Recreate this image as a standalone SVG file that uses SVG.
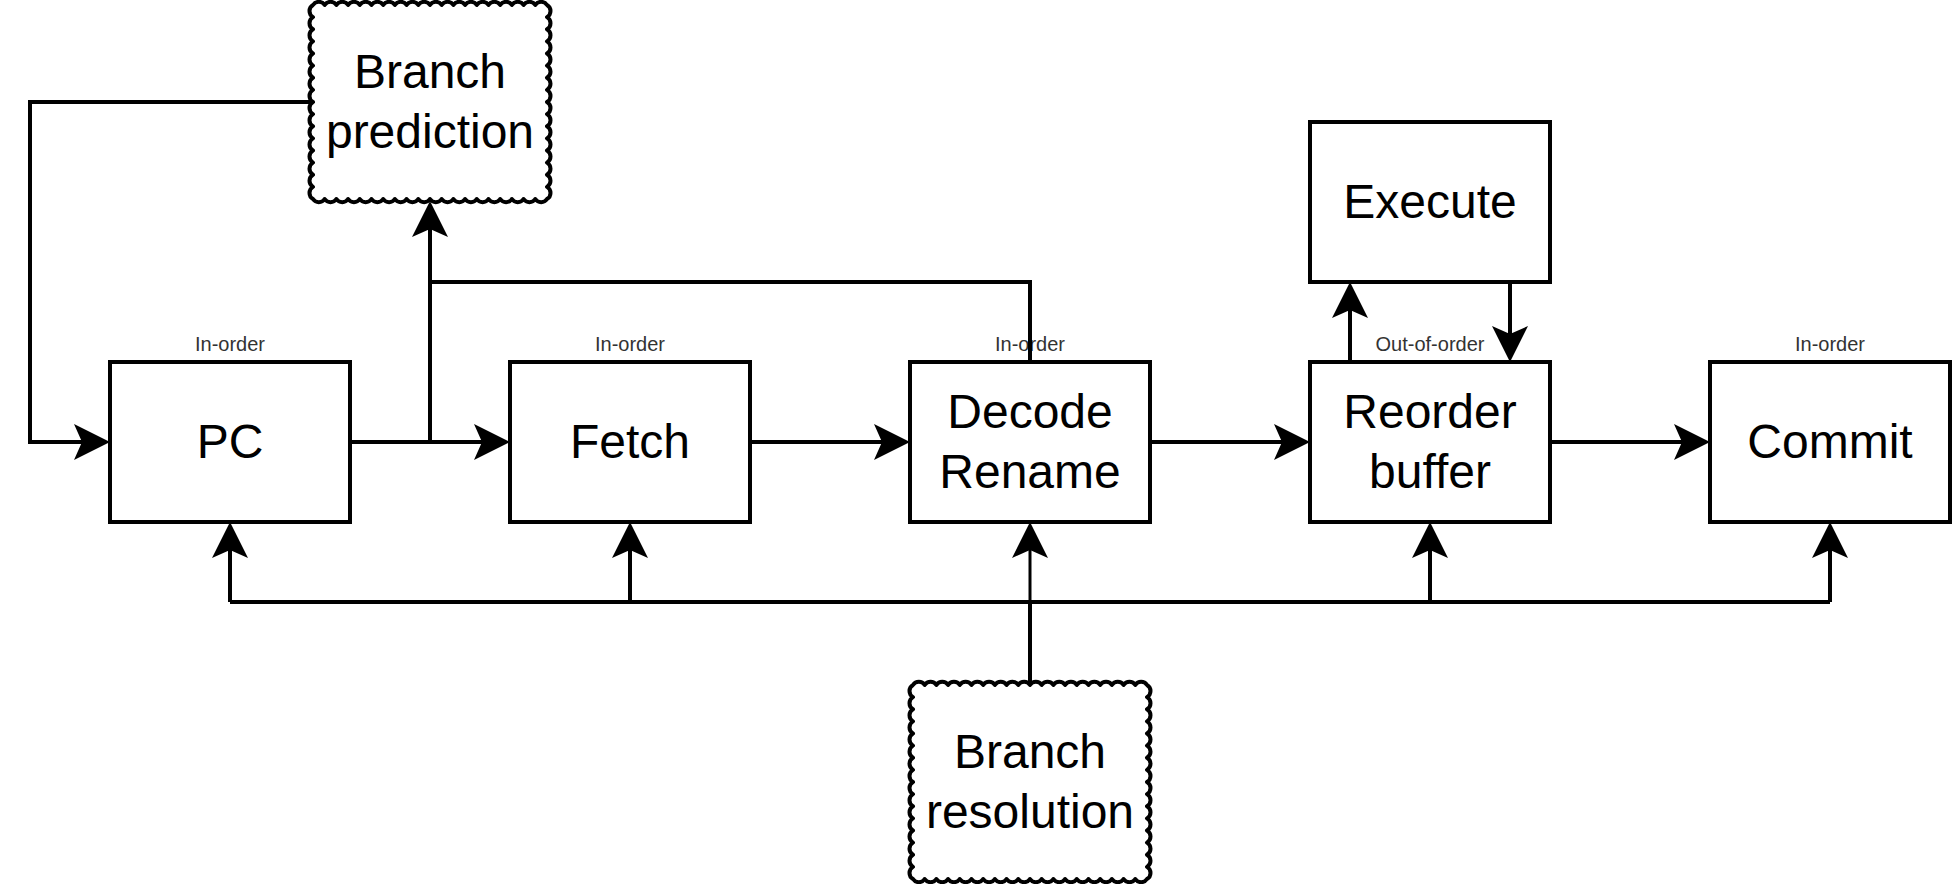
<svg xmlns="http://www.w3.org/2000/svg" xmlns:xlink="http://www.w3.org/1999/xlink" width="1952" height="884" viewBox="0 0 1952 884">
<style>
.box{fill:#fff;stroke:#000;stroke-width:4}
.wave{fill:#fff;stroke:#000;stroke-width:4;stroke-linejoin:round}
.lbl{font-family:"Liberation Sans",Arial,sans-serif;font-size:48px;fill:#000;text-anchor:middle}
.tag{font-family:"Liberation Sans",Arial,sans-serif;font-size:20px;fill:#333;text-anchor:middle}
.edge{fill:none;stroke:#000;stroke-width:4}
.thin{fill:none;stroke:#000;stroke-width:3}
</style>
<defs>
<marker id="arr" markerUnits="userSpaceOnUse" orient="auto" overflow="visible" markerWidth="40" markerHeight="40" refX="0" refY="0">
<path d="M28,0 L-8,-18 L0,0 L-8,18 Z" fill="#000"/>
</marker>
<path id="scallop" d="M3,3 a7 7 0 0 1 11.7 0 a7 7 0 0 1 11.7 0 a7 7 0 0 1 11.7 0 a7 7 0 0 1 11.7 0 a7 7 0 0 1 11.7 0 a7 7 0 0 1 11.7 0 a7 7 0 0 1 11.7 0 a7 7 0 0 1 11.7 0 a7 7 0 0 1 11.7 0 a7 7 0 0 1 11.7 0 a7 7 0 0 1 11.7 0 a7 7 0 0 1 11.7 0 a7 7 0 0 1 11.7 0 a7 7 0 0 1 11.7 0 a7 7 0 0 1 11.7 0 a7 7 0 0 1 11.7 0 a7 7 0 0 1 11.7 0 a7 7 0 0 1 11.7 0 a7 7 0 0 1 11.7 0 a7 7 0 0 1 11.7 0 a7 7 0 0 1 0 12.125 a7 7 0 0 1 0 12.125 a7 7 0 0 1 0 12.125 a7 7 0 0 1 0 12.125 a7 7 0 0 1 0 12.125 a7 7 0 0 1 0 12.125 a7 7 0 0 1 0 12.125 a7 7 0 0 1 0 12.125 a7 7 0 0 1 0 12.125 a7 7 0 0 1 0 12.125 a7 7 0 0 1 0 12.125 a7 7 0 0 1 0 12.125 a7 7 0 0 1 0 12.125 a7 7 0 0 1 0 12.125 a7 7 0 0 1 0 12.125 a7 7 0 0 1 0 12.125 a7 7 0 0 1 -11.7 0 a7 7 0 0 1 -11.7 0 a7 7 0 0 1 -11.7 0 a7 7 0 0 1 -11.7 0 a7 7 0 0 1 -11.7 0 a7 7 0 0 1 -11.7 0 a7 7 0 0 1 -11.7 0 a7 7 0 0 1 -11.7 0 a7 7 0 0 1 -11.7 0 a7 7 0 0 1 -11.7 0 a7 7 0 0 1 -11.7 0 a7 7 0 0 1 -11.7 0 a7 7 0 0 1 -11.7 0 a7 7 0 0 1 -11.7 0 a7 7 0 0 1 -11.7 0 a7 7 0 0 1 -11.7 0 a7 7 0 0 1 -11.7 0 a7 7 0 0 1 -11.7 0 a7 7 0 0 1 -11.7 0 a7 7 0 0 1 -11.7 0 a7 7 0 0 1 0 -12.125 a7 7 0 0 1 0 -12.125 a7 7 0 0 1 0 -12.125 a7 7 0 0 1 0 -12.125 a7 7 0 0 1 0 -12.125 a7 7 0 0 1 0 -12.125 a7 7 0 0 1 0 -12.125 a7 7 0 0 1 0 -12.125 a7 7 0 0 1 0 -12.125 a7 7 0 0 1 0 -12.125 a7 7 0 0 1 0 -12.125 a7 7 0 0 1 0 -12.125 a7 7 0 0 1 0 -12.125 a7 7 0 0 1 0 -12.125 a7 7 0 0 1 0 -12.125 a7 7 0 0 1 0 -12.125 Z"/>
</defs>
<rect x="0" y="0" width="1952" height="884" fill="#fff"/>

<g id="node-branch-prediction">
<use xlink:href="#scallop" href="#scallop" class="wave" transform="translate(310,2)"/>
<text class="lbl" x="430" y="88">Branch</text>
<text class="lbl" x="430" y="148">prediction</text>
</g>

<g id="node-pc">
<rect class="box" x="110" y="362" width="240" height="160"/>
<text class="lbl" x="230" y="458">PC</text>
<text class="tag" x="230" y="351">In-order</text>
</g>

<g id="node-fetch">
<rect class="box" x="510" y="362" width="240" height="160"/>
<text class="lbl" x="630" y="458">Fetch</text>
<text class="tag" x="630" y="351">In-order</text>
</g>

<g id="node-decode">
<rect class="box" x="910" y="362" width="240" height="160"/>
<text class="lbl" x="1030" y="428">Decode</text>
<text class="lbl" x="1030" y="488">Rename</text>
<text class="tag" x="1030" y="351">In-order</text>
</g>

<g id="node-execute">
<rect class="box" x="1310" y="122" width="240" height="160"/>
<text class="lbl" x="1430" y="218">Execute</text>
</g>

<g id="node-rob">
<rect class="box" x="1310" y="362" width="240" height="160"/>
<text class="lbl" x="1430" y="428">Reorder</text>
<text class="lbl" x="1430" y="488">buffer</text>
<text class="tag" x="1430" y="351">Out-of-order</text>
</g>

<g id="node-commit">
<rect class="box" x="1710" y="362" width="240" height="160"/>
<text class="lbl" x="1830" y="458">Commit</text>
<text class="tag" x="1830" y="351">In-order</text>
</g>

<g id="node-branch-resolution">
<use xlink:href="#scallop" href="#scallop" class="wave" transform="translate(910,682)"/>
<text class="lbl" x="1030" y="768">Branch</text>
<text class="lbl" x="1030" y="828">resolution</text>
</g>

<g id="connectors">
<path class="edge" d="M312,102 H30 V442 H82" marker-end="url(#arr)"/>
<path class="edge" d="M350,442 H482" marker-end="url(#arr)"/>
<path class="edge" d="M430,442 V229" marker-end="url(#arr)"/>
<path class="edge" d="M1030,362 V282 H430"/>
<path class="edge" d="M750,442 H882" marker-end="url(#arr)"/>
<path class="edge" d="M1150,442 H1282" marker-end="url(#arr)"/>
<path class="edge" d="M1550,442 H1682" marker-end="url(#arr)"/>
<path class="edge" d="M1350,362 V310" marker-end="url(#arr)"/>
<path class="edge" d="M1510,282 V334" marker-end="url(#arr)"/>
<path class="edge" d="M230,602 H1830"/>
<path class="edge" d="M230,602 V550" marker-end="url(#arr)"/>
<path class="edge" d="M630,602 V550" marker-end="url(#arr)"/>
<path class="edge" d="M1430,602 V550" marker-end="url(#arr)"/>
<path class="edge" d="M1830,602 V550" marker-end="url(#arr)"/>
<path class="edge" d="M1030,683 V602"/>
<path class="thin" d="M1030,602 V550" marker-end="url(#arr)"/>
</g>
</svg>
